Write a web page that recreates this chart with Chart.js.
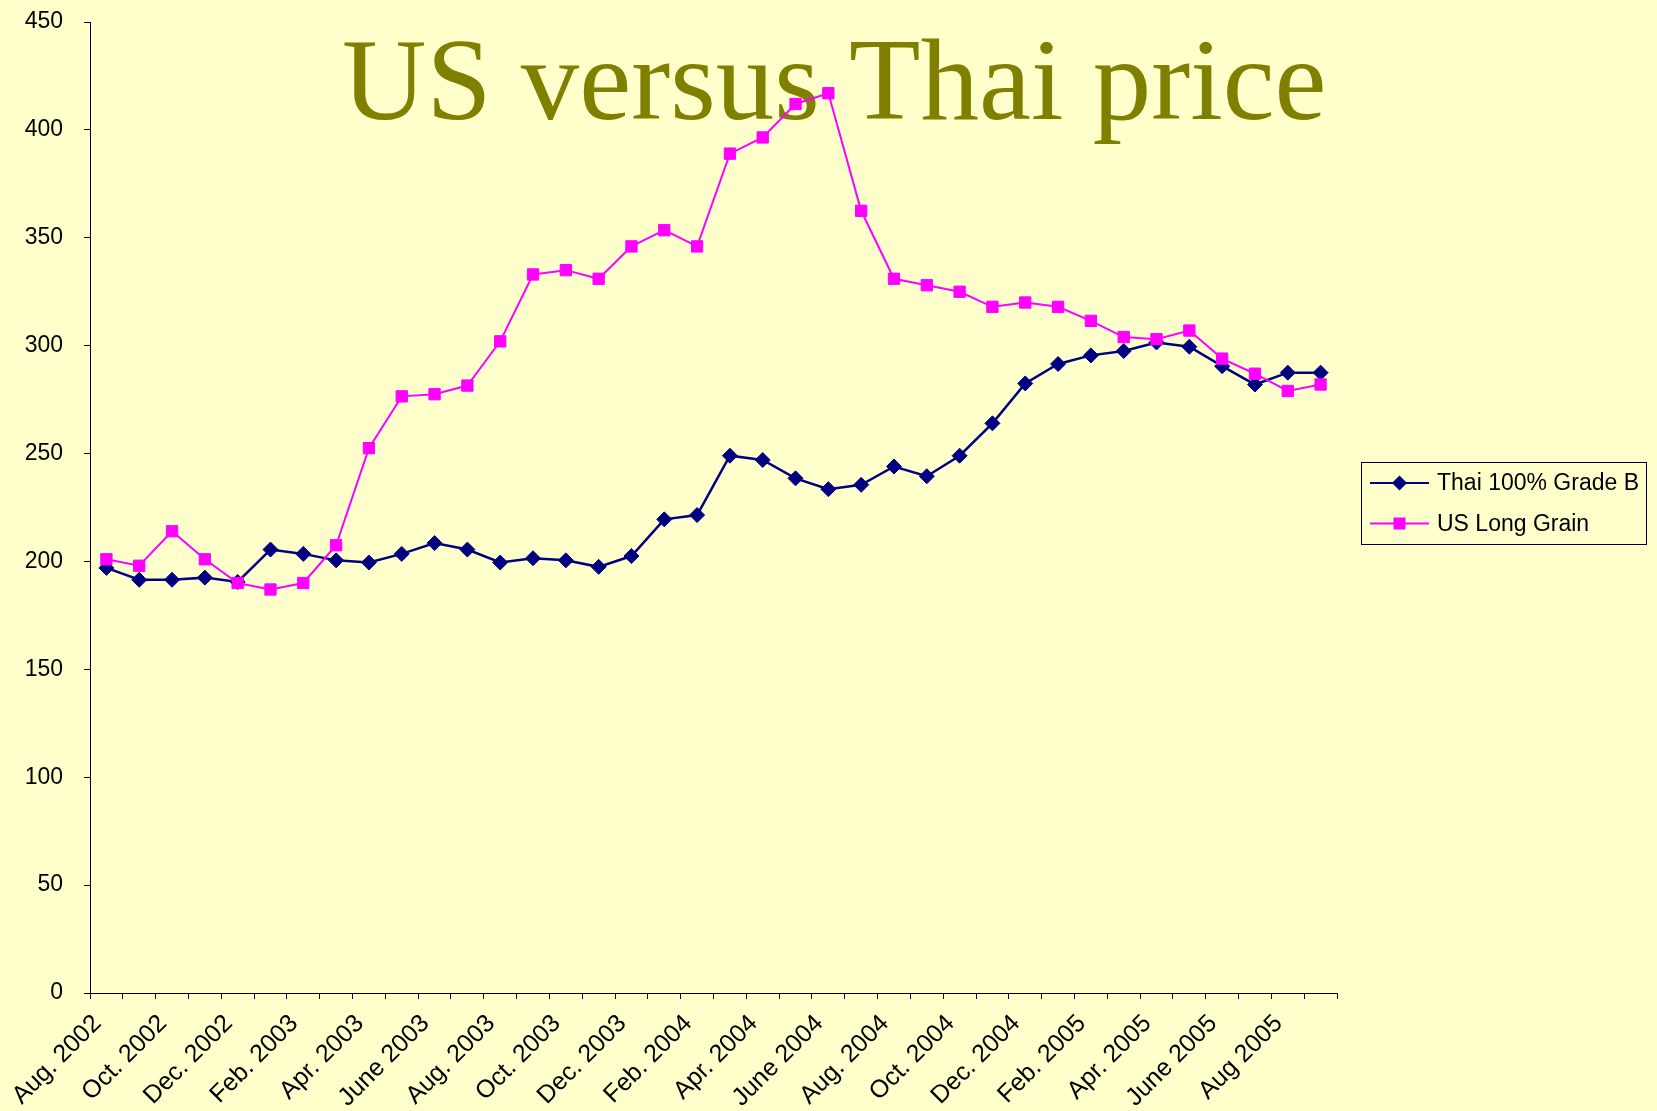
<!DOCTYPE html>
<html>
<head>
<meta charset="utf-8">
<script src="https://cdn.jsdelivr.net/npm/chart.js"></script>
<style>
	html, body { margin: 0; padding: 0; background: #FFFFCC; }
	#wrap { width: 1657px; height: 1111px; position: relative; }
</style>
</head>
<body>
<div id="wrap"><canvas id="priceChart" width="1657" height="1111"></canvas></div>
<script>
	var months = [
		'Aug. 2002', 'Sep. 2002', 'Oct. 2002', 'Nov. 2002', 'Dec. 2002',
		'Jan. 2003', 'Feb. 2003', 'Mar. 2003', 'Apr. 2003', 'May 2003', 'June 2003', 'July 2003',
		'Aug. 2003', 'Sep. 2003', 'Oct. 2003', 'Nov. 2003', 'Dec. 2003',
		'Jan. 2004', 'Feb. 2004', 'Mar. 2004', 'Apr. 2004', 'May 2004', 'June 2004', 'July 2004',
		'Aug. 2004', 'Sep. 2004', 'Oct. 2004', 'Nov. 2004', 'Dec. 2004',
		'Jan. 2005', 'Feb. 2005', 'Mar. 2005', 'Apr. 2005', 'May 2005', 'June 2005', 'July 2005',
		'Aug 2005', 'Sep 2005'
	];
	var thai_price = [197, 191.5, 191.5, 192.5, 190.5, 205.5, 203.5, 200.5, 199.5, 203.5, 208.5, 205.5,
		199.5, 201.5, 200.5, 197.5, 202.5, 219.5, 221.5, 249, 247, 238.5, 233.5, 235.5,
		244, 239.5, 249, 264, 282.5, 291.5, 295.5, 297.5, 301.5, 299.5, 290.5, 282, 287.5, 287.5];
	var us_price = [201, 198, 214, 201, 190, 187, 190, 207.5, 252.5, 276.5, 277.5, 281.5,
		302, 333, 335, 331, 346, 353.5, 346, 389, 396.5, 412, 417, 362.5,
		331, 328, 325, 318, 320, 318, 311.5, 304, 303, 307, 294, 287, 279, 282];
	var series_names = ['Thai 100% Grade B', 'US Long Grain'];
	var title_text = 'US versus Thai price';

	var tickFont = { family: '"Liberation Sans", Arial, sans-serif', size: 23 };

	// slide title sits behind the lines
	var titlePlugin = {
		id: 'slideTitle',
		beforeDatasetsDraw: function(chart) {
			var ctx = chart.ctx;
			ctx.save();
			ctx.font = '117px "Liberation Serif", "Times New Roman", serif';
			ctx.fillStyle = '#808000';
			ctx.textAlign = 'left';
			ctx.textBaseline = 'alphabetic';
			ctx.fillText(title_text, 342, 119);
			ctx.restore();
		}
	};

	// boxed legend with line + marker, like the Excel one
	var boxLegend = {
		id: 'boxLegend',
		afterDraw: function(chart) {
			var ctx = chart.ctx;
			ctx.save();
			ctx.strokeStyle = '#000';
			ctx.lineWidth = 1;
			ctx.strokeRect(1361.5, 462.5, 285, 82);
			ctx.font = '23px "Liberation Sans", Arial, sans-serif';
			ctx.textBaseline = 'middle';
			for (var i = 0; i < chart.data.datasets.length; i++) {
				var ds = chart.data.datasets[i];
				var y = 483 + i * 40.5;
				ctx.strokeStyle = ds.borderColor;
				ctx.lineWidth = 2;
				ctx.beginPath();
				ctx.moveTo(1370, y);
				ctx.lineTo(1429, y);
				ctx.stroke();
				ctx.fillStyle = ds.pointBackgroundColor;
				ctx.beginPath();
				if (ds.pointStyle == 'rectRot') {
					ctx.moveTo(1399.5 - 7.5, y);
					ctx.lineTo(1399.5, y - 7.5);
					ctx.lineTo(1399.5 + 7.5, y);
					ctx.lineTo(1399.5, y + 7.5);
					ctx.closePath();
				} else {
					ctx.rect(1399.5 - 6, y - 6, 12, 12);
				}
				ctx.fill();
				ctx.fillStyle = '#000';
				ctx.fillText(ds.label, 1437, y + 1);
			}
			ctx.restore();
		}
	};

	var config = {
		type: 'line',
		data: {
			labels: months,
			datasets: [
				{
					label: series_names[0],
					data: thai_price,
					borderColor: '#000080',
					backgroundColor: '#000080',
					pointBackgroundColor: '#000080',
					pointBorderColor: '#000080',
					pointStyle: 'rectRot',
					pointRadius: 7.5,
					pointBorderWidth: 1,
					borderWidth: 2.5,
					tension: 0,
					fill: false,
					order: 1
				},
				{
					label: series_names[1],
					data: us_price,
					borderColor: '#FF00FF',
					backgroundColor: '#FF00FF',
					pointBackgroundColor: '#FF00FF',
					pointBorderColor: '#FF00FF',
					pointStyle: 'rect',
					pointRadius: 8,
					pointBorderWidth: 1,
					borderWidth: 2,
					tension: 0,
					fill: false,
					order: 0
				}
			]
		},
		options: {
			responsive: false,
			animation: false,
			layout: { padding: { top: 22, right: 320, left: 0, bottom: 0 } },
			plugins: {
				legend: { display: false },
				tooltip: { enabled: false },
				title: { display: false }
			},
			scales: {
				x: {
					offset: true,
					grid: { display: true, offset: true, drawOnChartArea: false, drawTicks: true, tickLength: 6, color: '#000' },
					border: { display: true, color: '#000', width: 1 },
					ticks: {
						autoSkip: false,
						maxRotation: 45,
						minRotation: 45,
						padding: 10,
						labelOffset: -9,
						color: '#000',
						font: { family: '"Liberation Sans", Arial, sans-serif', size: 25 },
						callback: function(val, idx) {
							return idx % 2 == 0 ? this.getLabelForValue(val) : '';
						}
					},
					afterFit: function(scale) { scale.height = 118; }
				},
				y: {
					min: 0,
					max: 450,
					grid: { display: true, drawOnChartArea: false, drawTicks: true, tickLength: 6, color: '#000' },
					border: { display: true, color: '#000', width: 1 },
					ticks: { stepSize: 50, padding: 21, color: '#000', font: tickFont },
					afterFit: function(scale) {
						scale.width = 90;
						scale.paddingTop = 0;
						scale.paddingBottom = 0;
					}
				}
			}
		},
		plugins: [titlePlugin, boxLegend]
	};
	new Chart(document.getElementById('priceChart'), config);
</script>
</body>
</html>
